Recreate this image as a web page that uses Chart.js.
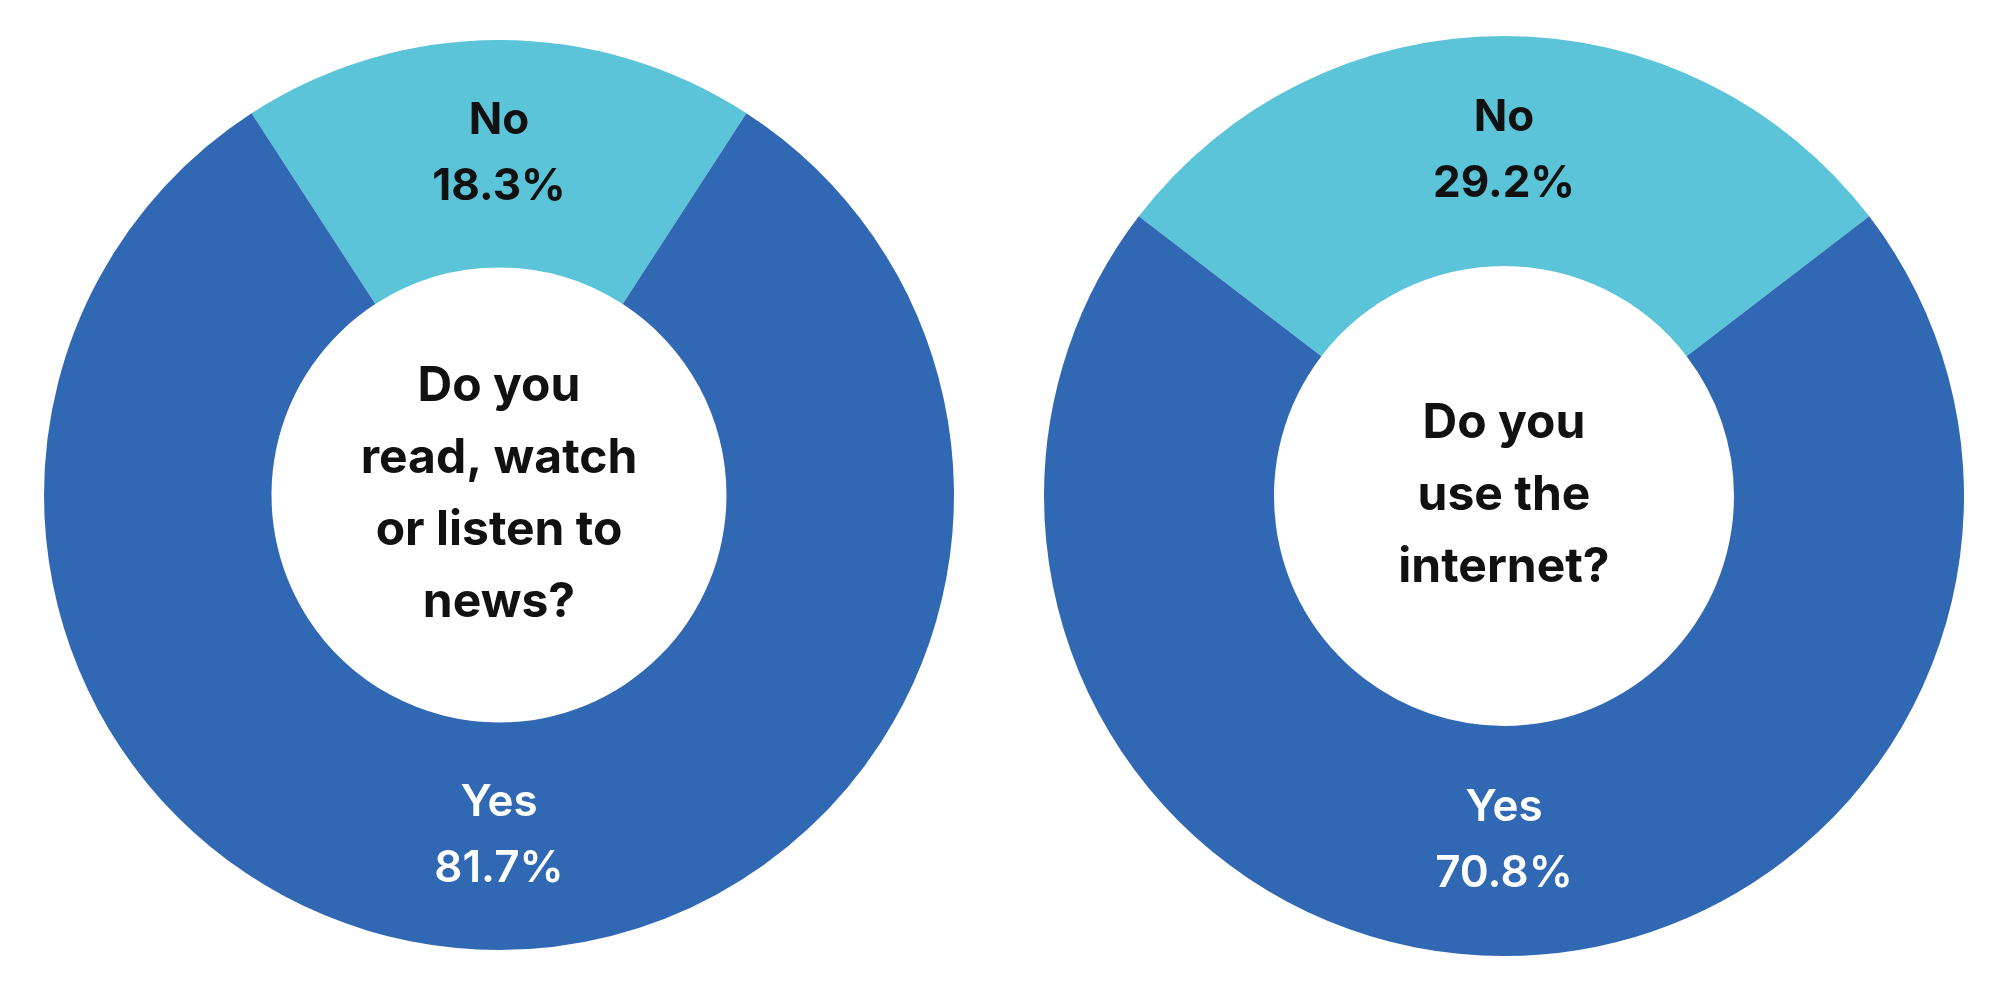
<!DOCTYPE html>
<html><head><meta charset="utf-8">
<script src="https://cdn.jsdelivr.net/npm/chart.js@4"></script>
<style>
body{margin:0;background:#fff;width:2000px;height:1000px;position:relative;overflow:hidden}
.box{position:absolute}
</style></head><body>
<div class="box" style="left:44px;top:40px;width:910px;height:910px"><canvas id="c1"></canvas></div>
<div class="box" style="left:1044px;top:36px;width:920px;height:920px"><canvas id="c2"></canvas></div>
<script>
const categories = ['No', 'Yes'];
const newsValues = [18.3, 81.7];
const internetValues = [29.2, 70.8];
const newsQuestion = ['Do you', 'read, watch', 'or listen to', 'news?'];
const internetQuestion = ['Do you', 'use the', 'internet?'];
const colors = ['#5BC4D8', '#3068B4'];
const labelColors = ['#111111', '#ffffff'];
const FONT = 'Inter, "Open Sans", sans-serif';

const labelPlugin = {
  id: 'labels',
  afterDatasetsDraw(chart) {
    const c = chart.ctx;
    const meta = chart.getDatasetMeta(0);
    const vals = chart.data.datasets[0].data;
    c.save();
    c.textAlign = 'center';
    c.textBaseline = 'middle';
    meta.data.forEach((arc, i) => {
      const p = arc.tooltipPosition();
      c.fillStyle = labelColors[i];
      c.font = (i === 0 ? '700 ' : '600 ') + '44px ' + FONT;
      c.fillText(chart.data.labels[i], p.x, p.y - 33);
      c.fillText(vals[i].toFixed(1) + '%', p.x, p.y + 33);
    });
    const lines = chart.options.plugins.labels.question;
    const a = meta.data[0];
    c.fillStyle = '#111111';
    c.font = '700 48px ' + FONT;
    const lh = 72;
    lines.forEach((t, j) => {
      c.fillText(t, a.x, a.y + (j - (lines.length - 1) / 2) * lh);
    });
    c.restore();
  }
};

function make(id, values, question) {
  new Chart(document.getElementById(id), {
    type: 'doughnut',
    data: { labels: categories, datasets: [{ data: values, backgroundColor: colors, borderWidth: 0 }] },
    options: {
      responsive: true, maintainAspectRatio: false, animation: false,
      cutout: '50%',
      rotation: -values[0] * 3.6 / 2,
      plugins: { legend: { display: false }, tooltip: { enabled: false }, labels: { question } }
    },
    plugins: [labelPlugin]
  });
}
make('c1', newsValues, newsQuestion);
make('c2', internetValues, internetQuestion);
</script></body></html>
